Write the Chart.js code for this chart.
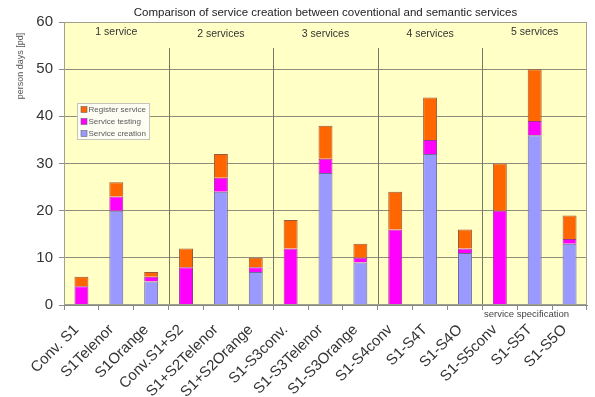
<!DOCTYPE html>
<html>
<head>
<meta charset="utf-8">
<script src="https://cdn.jsdelivr.net/npm/chart.js@4/dist/chart.umd.min.js"></script>
<style>
  html, body { margin: 0; padding: 0; background: #ffffff; }
  #wrap { width: 595px; height: 397px; }
</style>
</head>
<body>
<div id="wrap"><canvas id="c" width="595" height="397"></canvas></div>
<script>
// Effort per scenario, in person days
const categories = ['Conv. S1', 'S1Telenor', 'S1Orange', 'Conv.S1+S2', 'S1+S2Telenor', 'S1+S2Orange',
  'S1-S3conv.', 'S1-S3Telenor', 'S1-S3Orange', 'S1-S4conv', 'S1-S4T', 'S1-S4O',
  'S1-S5conv', 'S1-S5T', 'S1-S5O'];
const serviceCreation = [0, 20, 5, 0, 24, 7, 0, 28, 9, 0, 32, 11, 0, 36, 13];
const serviceTesting  = [4, 3, 1, 8, 3, 1, 12, 3, 1, 16, 3, 1, 20, 3, 1];
const registerService = [2, 3, 1, 4, 5, 2, 6, 7, 3, 8, 9, 4, 10, 11, 5];
const groupLabels = ['1 service', '2 services', '3 services', '4 services', '5 services'];
const yTickValues = [0, 10, 20, 30, 40, 50, 60];

const FONT = "'Liberation Sans', Arial, sans-serif";
const PLOT_BG = '#ffffc6';
const GRID = '#8e8e7c';

// plot background and frame
const plotFrame = {
  id: 'plotFrame',
  beforeDraw(chart) {
    const { ctx, chartArea: a } = chart;
    ctx.save();
    ctx.fillStyle = PLOT_BG;
    ctx.fillRect(a.left, a.top, a.right - a.left, a.bottom - a.top);
    ctx.restore();
  },
  afterDatasetsDraw(chart) {
    const { ctx, chartArea: a } = chart;
    ctx.save();
    ctx.strokeStyle = '#a0a090';
    ctx.lineWidth = 1;
    ctx.strokeRect(a.left + 0.5, a.top + 0.5, a.right - a.left - 1, a.bottom - a.top - 1);
    ctx.restore();
  }
};

// group separators, group captions, titles and the legend box
const annotations = {
  id: 'annotations',
  beforeDatasetsDraw(chart) {
    const { ctx, chartArea: a, scales: { x } } = chart;
    ctx.save();
    ctx.strokeStyle = '#77776a';
    ctx.lineWidth = 1;
    for (let g = 1; g < groupLabels.length; g++) {
      const px = Math.round((x.getPixelForValue(3 * g - 1) + x.getPixelForValue(3 * g)) / 2) + 0.5;
      ctx.beginPath();
      ctx.moveTo(px, 48);
      ctx.lineTo(px, a.bottom);
      ctx.stroke();
    }
    ctx.fillStyle = '#333333';
    ctx.font = '10.5px ' + FONT;
    ctx.textAlign = 'center';
    ctx.textBaseline = 'middle';
    groupLabels.forEach((t, g) => {
      ctx.fillText(t, x.getPixelForValue(3 * g + 1), g === 0 || g === 4 ? 32 : 34);
    });
    ctx.restore();
  },
  afterDraw(chart) {
    const { ctx, chartArea: a } = chart;
    ctx.save();
    // title
    ctx.fillStyle = '#222222';
    ctx.font = '11.5px ' + FONT;
    ctx.textAlign = 'center';
    ctx.textBaseline = 'middle';
    ctx.fillText('Comparison of service creation between coventional and semantic services', (a.left + a.right) / 2, 13);
    // y axis title
    ctx.save();
    ctx.translate(21, 66);
    ctx.rotate(-Math.PI / 2);
    ctx.fillStyle = '#555555';
    ctx.font = '9px ' + FONT;
    ctx.fillText('person days [pd]', 0, 0);
    ctx.restore();
    // x axis title
    ctx.fillStyle = '#444444';
    ctx.font = '9.5px ' + FONT;
    ctx.textAlign = 'right';
    ctx.fillText('service specification', a.right - 18, a.bottom + 9);
    // legend box
    const bx = 77.5, by = 103.5, bw = 72, bh = 36;
    ctx.fillStyle = '#fdfdf4';
    ctx.strokeStyle = '#c4c4bc';
    ctx.lineWidth = 1;
    ctx.fillRect(bx, by, bw, bh);
    ctx.strokeRect(bx, by, bw, bh);
    const items = chart.data.datasets.slice().reverse();
    ctx.font = '8px ' + FONT;
    ctx.textAlign = 'left';
    items.forEach((ds, i) => {
      const cy = by + 6 + i * 12;
      ctx.fillStyle = ds.backgroundColor;
      ctx.fillRect(bx + 3.5, cy - 3, 6, 6);
      ctx.strokeStyle = '#666666';
      ctx.lineWidth = 0.6;
      ctx.strokeRect(bx + 3.5, cy - 3, 6, 6);
      ctx.fillStyle = '#5a5a5a';
      ctx.fillText(ds.label, bx + 11, cy + 0.5);
    });
    ctx.restore();
  }
};

// no outline for empty segments
const segBorder = c => (c.raw === 0 ? 0 : 1);

new Chart(document.getElementById('c'), {
  type: 'bar',
  data: {
    labels: categories,
    datasets: [
      { label: 'Service creation', data: serviceCreation, backgroundColor: '#9999ff', borderColor: '#6e6a9a', borderWidth: segBorder },
      { label: 'Service testing', data: serviceTesting, backgroundColor: '#ff00ff', borderColor: '#a0309a', borderWidth: segBorder },
      { label: 'Register service', data: registerService, backgroundColor: '#ff6600', borderColor: '#9a5a3a', borderWidth: segBorder }
    ]
  },
  options: {
    responsive: false,
    animation: false,
    layout: { padding: { top: 22, right: 8, left: 0, bottom: 0 } },
    datasets: { bar: { barPercentage: 0.4, categoryPercentage: 1.0 } },
    plugins: {
      legend: { display: false },
      title: { display: false },
      tooltip: { enabled: false }
    },
    scales: {
      x: {
        stacked: true,
        afterFit(s) { s.height = 92; },
        grid: { drawOnChartArea: false, drawTicks: true, tickLength: 5, color: '#8a8a80', offset: true },
        border: { color: '#8a8a80' },
        ticks: {
          autoSkip: false, maxRotation: 45, minRotation: 45,
          color: '#333333', font: { family: FONT, size: 15 }, padding: 11, labelOffset: -5
        }
      },
      y: {
        stacked: true,
        min: 0, max: 60,
        afterFit(s) { s.width = 64; },
        afterBuildTicks(s) { s.ticks = yTickValues.map(v => ({ value: v })); },
        grid: { color: GRID, tickLength: 5, drawTicks: true },
        border: { color: '#8a8a80' },
        ticks: { color: '#333333', font: { family: FONT, size: 15 }, padding: 6 }
      }
    }
  },
  plugins: [plotFrame, annotations]
});
</script>
</body>
</html>
